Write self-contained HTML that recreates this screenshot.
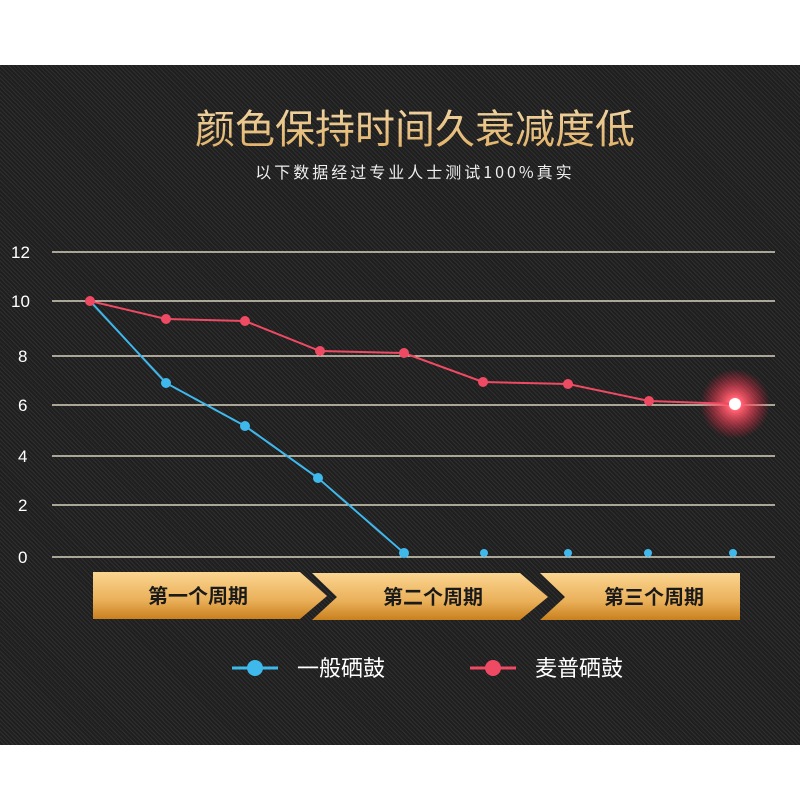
<!DOCTYPE html>
<html><head><meta charset="utf-8"><style>
body{margin:0;width:800px;height:800px;background:#fff;overflow:hidden;font-family:"Liberation Sans","Noto Sans CJK SC",sans-serif}
.bg{position:absolute;left:0;top:65px;width:800px;height:680px;background:#262626;background-image:repeating-linear-gradient(45deg,#2f2f2f 0 1px,#1f1f1f 1px 3px)}
</style></head><body>
<div class="bg"></div>
<svg width="800" height="800" style="position:absolute;left:0;top:0">
<defs>
<linearGradient id="g" x1="0" y1="0" x2="0" y2="1"><stop offset="0" stop-color="#fbd590"/><stop offset="0.6" stop-color="#eab05a"/><stop offset="1" stop-color="#c9801e"/></linearGradient>
<linearGradient id="t" x1="0" y1="0" x2="0" y2="1"><stop offset="0" stop-color="#f3dcb0"/><stop offset="1" stop-color="#e0ad60"/></linearGradient>
<radialGradient id="glow"><stop offset="0" stop-color="#fff"/><stop offset="0.2" stop-color="#ff6070"/><stop offset="1" stop-color="#ff2040" stop-opacity="0"/></radialGradient>
</defs>
<text x="415" y="143" text-anchor="middle" font-size="40" fill="url(#t)" font-family="Noto Sans CJK SC,sans-serif">颜色保持时间久衰减度低</text>
<text x="415" y="178" text-anchor="middle" font-size="16" fill="#eee" letter-spacing="3" font-family="Noto Sans CJK SC,sans-serif">以下数据经过专业人士测试100%真实</text>
<g stroke="#fbf4dc" stroke-width="1.3">
<line x1="52" y1="252" x2="775" y2="252"/><line x1="52" y1="301" x2="775" y2="301"/><line x1="52" y1="356" x2="775" y2="356"/><line x1="52" y1="405" x2="775" y2="405"/><line x1="52" y1="456" x2="775" y2="456"/><line x1="52" y1="505" x2="775" y2="505"/><line x1="52" y1="557" x2="775" y2="557"/>
</g>
<g fill="#fff" font-size="17">
<text x="11" y="258">12</text><text x="11" y="307">10</text><text x="18" y="362">8</text><text x="18" y="411">6</text><text x="18" y="462">4</text><text x="18" y="511">2</text><text x="18" y="563">0</text>
</g>
<polyline fill="none" stroke="#3fb8ec" stroke-width="2" points="90,301 166,383 245,426 318,478 404,553"/>
<g fill="#3fb8ec"><circle cx="166" cy="383" r="5"/><circle cx="245" cy="426" r="5"/><circle cx="318" cy="478" r="5"/><circle cx="404" cy="553" r="5"/><circle cx="484" cy="553" r="4"/><circle cx="568" cy="553" r="4"/><circle cx="648" cy="553" r="4"/><circle cx="733" cy="553" r="4"/></g>
<circle cx="735" cy="404" r="35" fill="url(#glow)"/>
<polyline fill="none" stroke="#ef4a63" stroke-width="2" points="90,301 166,319 245,321 320,351 404,353 483,382 568,384 649,401 735,404"/>
<g fill="#ef4a63"><circle cx="90" cy="301" r="5"/><circle cx="166" cy="319" r="5"/><circle cx="245" cy="321" r="5"/><circle cx="320" cy="351" r="5"/><circle cx="404" cy="353" r="5"/><circle cx="483" cy="382" r="5"/><circle cx="568" cy="384" r="5"/><circle cx="649" cy="401" r="5"/><circle cx="735" cy="404" r="6" fill="#fff"/></g>
<polygon points="93,572 300,572 327,596 300,619 93,619" fill="url(#g)"/>
<polygon points="312,573 520,573 548,597 520,620 312,620 337,597" fill="url(#g)"/>
<polygon points="540,573 740,573 740,620 540,620 565,597" fill="url(#g)"/>
<g font-size="20" font-weight="bold" fill="#1a1a1a" text-anchor="middle" font-family="Noto Sans CJK SC,sans-serif">
<text x="198" y="603">第一个周期</text><text x="433" y="604">第二个周期</text><text x="654" y="604">第三个周期</text>
</g>
<line x1="232" y1="668" x2="278" y2="668" stroke="#3fb8ec" stroke-width="3"/><circle cx="255" cy="668" r="8" fill="#3fb8ec"/>
<line x1="470" y1="668" x2="516" y2="668" stroke="#ef4a63" stroke-width="3"/><circle cx="493" cy="668" r="8" fill="#ef4a63"/>
<g font-size="22" fill="#fff" font-family="Noto Sans CJK SC,sans-serif"><text x="297" y="676">一般硒鼓</text><text x="535" y="676">麦普硒鼓</text></g>
</svg>
</body></html>
